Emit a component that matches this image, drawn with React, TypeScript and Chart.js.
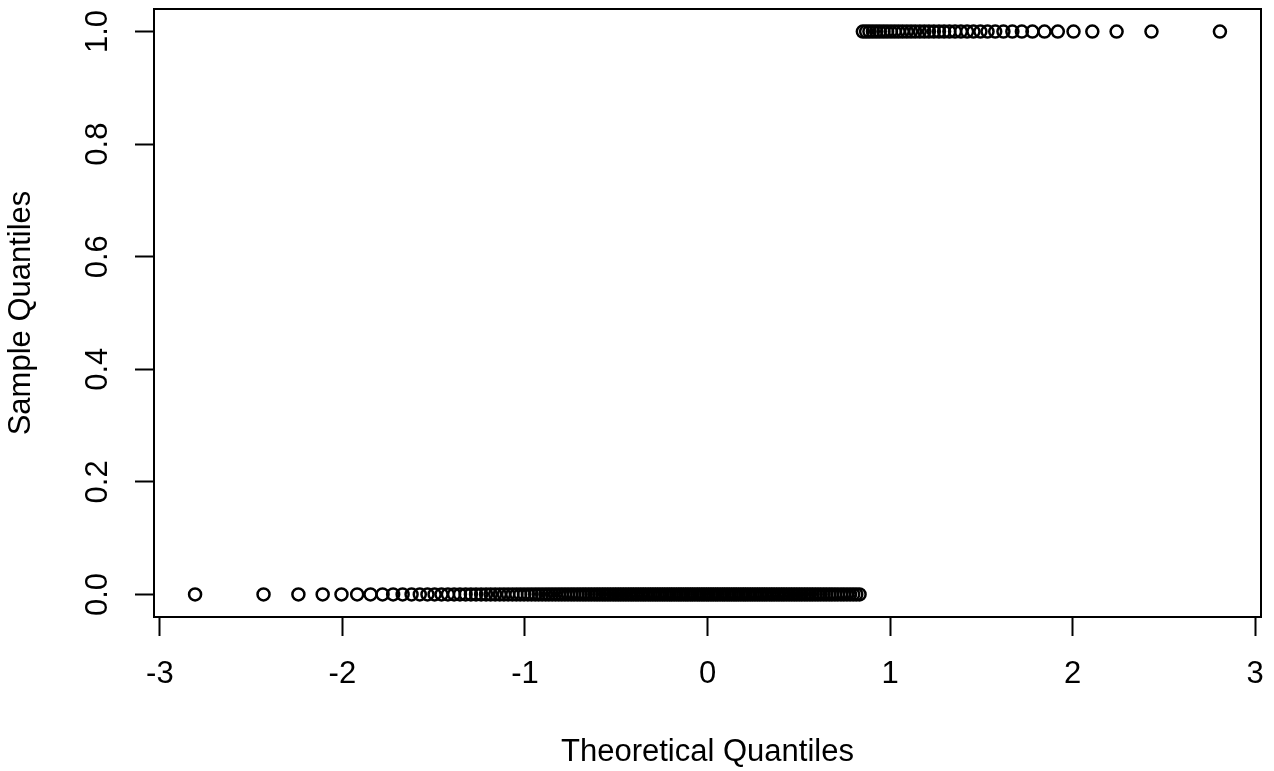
import React, { useEffect, useRef } from "react";
import { Chart, registerables } from "chart.js";

Chart.register(...registerables);

// Theoretical quantiles of the observations whose sample value is 0
const ZERO_GROUP_X = [
  -2.807, -2.432, -2.241, -2.108, -2.005, -1.919, -1.846, -1.780, -1.722, -1.670,
  -1.621, -1.576, -1.534, -1.495, -1.457, -1.422, -1.388, -1.356, -1.325, -1.296,
  -1.268, -1.240, -1.213, -1.188, -1.163, -1.138, -1.115, -1.092, -1.069, -1.047,
  -1.026, -1.005, -0.984, -0.964, -0.944, -0.925, -0.906, -0.887, -0.869, -0.851,
  -0.833, -0.815, -0.798, -0.781, -0.764, -0.747, -0.731, -0.714, -0.698, -0.682,
  -0.667, -0.651, -0.636, -0.620, -0.605, -0.590, -0.575, -0.561, -0.546, -0.532,
  -0.517, -0.503, -0.489, -0.475, -0.461, -0.447, -0.433, -0.419, -0.406, -0.392,
  -0.379, -0.365, -0.352, -0.339, -0.325, -0.312, -0.299, -0.286, -0.273, -0.260,
  -0.247, -0.234, -0.221, -0.208, -0.196, -0.183, -0.170, -0.157, -0.145, -0.132,
  -0.119, -0.107, -0.094, -0.082, -0.069, -0.056, -0.044, -0.031, -0.019, -0.006,
  0.006, 0.019, 0.031, 0.044, 0.056, 0.069, 0.082, 0.094, 0.107, 0.119,
  0.132, 0.145, 0.157, 0.170, 0.183, 0.196, 0.208, 0.221, 0.234, 0.247,
  0.260, 0.273, 0.286, 0.299, 0.312, 0.325, 0.339, 0.352, 0.365, 0.379,
  0.392, 0.406, 0.419, 0.433, 0.447, 0.461, 0.475, 0.489, 0.503, 0.517,
  0.532, 0.546, 0.561, 0.575, 0.590, 0.605, 0.620, 0.636, 0.651, 0.667,
  0.682, 0.698, 0.714, 0.731, 0.747, 0.764, 0.781, 0.798, 0.815, 0.833,
];

// Theoretical quantiles of the observations whose sample value is 1
const ONE_GROUP_X = [
  0.851, 0.869, 0.887, 0.906, 0.925, 0.944, 0.964, 0.984, 1.005, 1.026,
  1.047, 1.069, 1.092, 1.115, 1.138, 1.163, 1.188, 1.213, 1.240, 1.268,
  1.296, 1.325, 1.356, 1.388, 1.422, 1.457, 1.495, 1.534, 1.576, 1.621,
  1.670, 1.722, 1.780, 1.846, 1.919, 2.005, 2.108, 2.241, 2.432, 2.807,
];

const SAMPLE_VALUES = [0, 1];

const X_TICKS = [-3, -2, -1, 0, 1, 2, 3];
const X_TICK_LABELS = ["-3", "-2", "-1", "0", "1", "2", "3"];
const Y_TICKS = [0, 0.2, 0.4, 0.6, 0.8, 1.0];
const Y_TICK_LABELS = ["0.0", "0.2", "0.4", "0.6", "0.8", "1.0"];

const X_TITLE = "Theoretical Quantiles";
const Y_TITLE = "Sample Quantiles";

const FONT_FAMILY = "'Liberation Sans', Arial, sans-serif";
const FONT_SIZE = 31;

export default function App() {
  const canvasRef = useRef<HTMLCanvasElement | null>(null);

  useEffect(() => {
    const canvas = canvasRef.current;
    if (!canvas) return;

    const boxPlugin = {
      id: "rBox",
      afterDraw(chart: any) {
        const { ctx, chartArea } = chart;
        const yScale = chart.scales.y;
        ctx.save();
        ctx.strokeStyle = "#000";
        ctx.lineWidth = 2;
        ctx.strokeRect(
          chartArea.left,
          chartArea.top,
          chartArea.right - chartArea.left,
          chartArea.bottom - chartArea.top
        );
        // rotated y tick labels (R style)
        ctx.fillStyle = "#000";
        ctx.font = `${FONT_SIZE}px ${FONT_FAMILY}`;
        ctx.textAlign = "center";
        ctx.textBaseline = "middle";
        Y_TICKS.forEach((v, i) => {
          const py = yScale.getPixelForValue(v);
          ctx.save();
          ctx.translate(98, py);
          ctx.rotate(-Math.PI / 2);
          ctx.fillText(Y_TICK_LABELS[i], 0, 0);
          ctx.restore();
        });
        ctx.restore();
      },
    };

    const pointStyle = {
      pointStyle: "circle" as const,
      pointRadius: 6,
      pointHoverRadius: 6,
      pointBorderWidth: 2.5,
      pointBorderColor: "#000",
      pointBackgroundColor: "rgba(0,0,0,0)",
      showLine: false,
    };

    const chart = new Chart(canvas, {
      type: "scatter",
      data: {
        datasets: [
          {
            label: "0",
            data: ZERO_GROUP_X.map((x) => ({ x, y: SAMPLE_VALUES[0] })),
            ...pointStyle,
          },
          {
            label: "1",
            data: ONE_GROUP_X.map((x) => ({ x, y: SAMPLE_VALUES[1] })),
            ...pointStyle,
          },
        ],
      },
      options: {
        responsive: false,
        animation: false,
        maintainAspectRatio: false,
        layout: { padding: { left: 0, right: 13, top: 9, bottom: 0 } },
        plugins: {
          legend: { display: false },
          tooltip: { enabled: false },
          title: { display: false },
        },
        scales: {
          x: {
            type: "linear",
            min: -3.032,
            max: 3.032,
            afterBuildTicks: (scale: any) => {
              scale.ticks = X_TICKS.map((v) => ({ value: v }));
            },
            afterFit: (scale: any) => {
              scale.height = 154;
              scale.paddingLeft = 0;
              scale.paddingRight = 0;
            },
            border: { display: false },
            grid: {
              drawOnChartArea: false,
              drawTicks: true,
              tickLength: 19,
              tickWidth: 2,
              tickColor: "#000",
            },
            ticks: {
              autoSkip: false,
              maxRotation: 0,
              minRotation: 0,
              padding: 20,
              color: "#000",
              font: { family: FONT_FAMILY, size: FONT_SIZE },
              callback: (value: any) => {
                const i = X_TICKS.indexOf(Number(value));
                return i >= 0 ? X_TICK_LABELS[i] : "";
              },
            },
            title: {
              display: true,
              text: X_TITLE,
              color: "#000",
              font: { family: FONT_FAMILY, size: FONT_SIZE },
              padding: { top: 0, bottom: 0 },
            },
          },
          y: {
            type: "linear",
            min: -0.04,
            max: 1.04,
            afterBuildTicks: (scale: any) => {
              scale.ticks = Y_TICKS.map((v) => ({ value: v }));
            },
            afterFit: (scale: any) => {
              scale.width = 154;
              scale.paddingTop = 0;
              scale.paddingBottom = 0;
            },
            border: { display: false },
            grid: {
              drawOnChartArea: false,
              drawTicks: true,
              tickLength: 19,
              tickWidth: 2,
              tickColor: "#000",
            },
            ticks: {
              display: false,
            },
            title: {
              display: true,
              text: Y_TITLE,
              color: "#000",
              font: { family: FONT_FAMILY, size: FONT_SIZE },
              padding: { top: 3, bottom: 0 },
            },
          },
        },
      },
      plugins: [boxPlugin],
    });

    return () => {
      chart.destroy();
    };
  }, []);

  return (
    <div
      style={{
        position: "fixed",
        left: 0,
        top: 0,
        width: 1274,
        height: 771,
        background: "#fff",
      }}
    >
      <canvas ref={canvasRef} width={1274} height={771} />
    </div>
  );
}
